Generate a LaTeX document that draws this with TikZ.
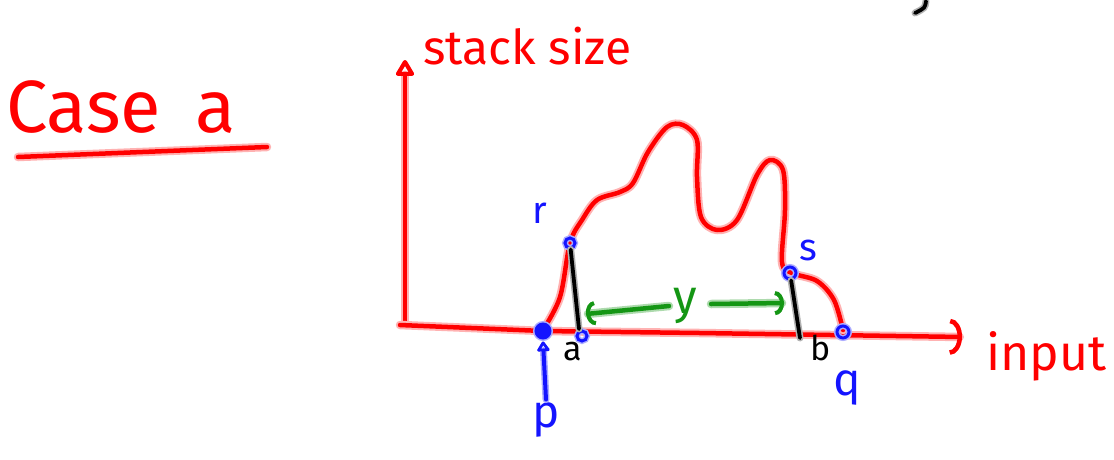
\documentclass[tikz,border=0pt]{standalone}
\usepackage{fontspec}
\setmainfont{Fira Sans}
\usetikzlibrary{arrows.meta}
\definecolor{penred}{RGB}{255,0,0}
\definecolor{penblue}{RGB}{20,20,255}
\definecolor{pengreen}{RGB}{20,150,20}
\tikzset{
  redpen/.style={draw=penred, line width=4.5pt, line cap=round, line join=round,
    preaction={draw=penred!30, line width=8.5pt, line cap=round, line join=round}},
  blackpen/.style={draw=black, line width=3.8pt, line cap=round,
    preaction={draw=black!30, line width=7pt, line cap=round}},
  greenpen/.style={draw=pengreen, line width=4.5pt, line cap=round, line join=round,
    preaction={draw=pengreen!35, line width=8.5pt, line cap=round}},
  bluepen/.style={draw=penblue, line width=4pt, line cap=round, line join=round,
    preaction={draw=penblue!35, line width=7pt, line cap=round}},
  bluedot/.style={circle, draw=penblue, line width=3pt, inner sep=0pt, minimum size=10pt,
    preaction={draw=penblue!35, line width=6pt}},
  redtxt/.style={text=penred, inner sep=0pt, font=\fontsize{48}{48}\selectfont},
  bluetxt/.style={text=penblue, inner sep=0pt, font=\fontsize{38}{38}\selectfont},
  blacktxt/.style={text=black, inner sep=0pt, font=\fontsize{34}{34}\selectfont},
}
\begin{document}
\begin{tikzpicture}[x=1pt,y=-1pt]
\useasboundingbox (0,0) rectangle (1114,459);
% top-right stray mark
\coordinate (m1) at (926,1);
\coordinate (m2) at (915,13);
\draw[blackpen] (m1) .. controls (925,8) .. (m2);
% title
\node[redtxt, font=\fontsize{74}{74}\selectfont, anchor=base west] (title) at (6,132) {Case\hspace{34pt}a};
\coordinate (ul1) at (18,157);
\coordinate (ul2) at (267,147);
\draw[redpen] (ul1) -- (ul2);
% axes
\coordinate (O) at (400,325);
\coordinate (ytop) at (405,60);
\coordinate (xend) at (962,337);
\draw[redpen, -{Triangle[open,round,length=18pt,width=20pt,line width=4pt]}] (405,325) -- (ytop);
\draw[redpen, -{Arc Barb[length=12pt,width=36pt,line width=4.5pt]}] (O) -- (543,331) -- (700,333) -- (xend);
\node[redtxt, anchor=base west] (ylab) at (423,64) {stack size};
\node[redtxt, font=\fontsize{50}{50}\selectfont, anchor=base west] (xlab) at (986,370) {input};
% curve
\draw[redpen] plot[smooth, tension=0.55] coordinates {
 (543,330) (560,297) (570,243) (582,220) (597,200) (620,192) (633,183)
 (648,152) (667,127) (683,125) (697,140) (697,177) (701,217) (717,230)
 (737,220) (757,175) (770,160) (783,170) (785,210) (782,262) (792,273)
 (817,281) (834,300) (843,330)};
% blue dots
\node[bluedot, fill=penblue, minimum size=14pt] (p) at (543,331) {};
\node[bluedot] (adot) at (582,336) {};
\node[bluedot] (r) at (570,243) {};
\node[bluedot, minimum size=12pt] (s) at (790,273) {};
\node[bluedot, minimum size=12pt] (q) at (843,332) {};
% black verticals
\coordinate (abot) at (579,329);
\coordinate (bbot) at (800,338);
\draw[blackpen] (r) -- (abot);
\draw[blackpen] (s) -- (bbot);
% green arrow with y
\node[text=pengreen, inner sep=0pt, font=\fontsize{48}{48}\selectfont] (ylabel) at (685,306) {y};
\draw[greenpen, {Arc Barb[length=9pt,width=24pt,line width=4pt]}-] (586,314) -- ([xshift=-4pt]ylabel.west);
\draw[greenpen, -{Arc Barb[length=9pt,width=24pt,line width=4pt]}] (ylabel.east) ++(14,-2) -- (784,303);
% labels
\node[bluetxt] (rlab) at (540,213) {r};
\node[bluetxt] (slab) at (808,250) {s};
\node[blacktxt] (alab) at (573,352) {a};
\node[blacktxt] (blab) at (821,348) {b};
\node[bluetxt, font=\fontsize{46}{46}\selectfont] (plab) at (546,420) {p};
\node[bluetxt, font=\fontsize{46}{46}\selectfont] (qlab) at (847,388) {q};
\draw[bluepen, -{Triangle[open,round,length=11pt,width=14pt,line width=3pt]}] ([yshift=3pt]plab.north) -- ([yshift=-2pt]p.south);
\end{tikzpicture}
\end{document}
